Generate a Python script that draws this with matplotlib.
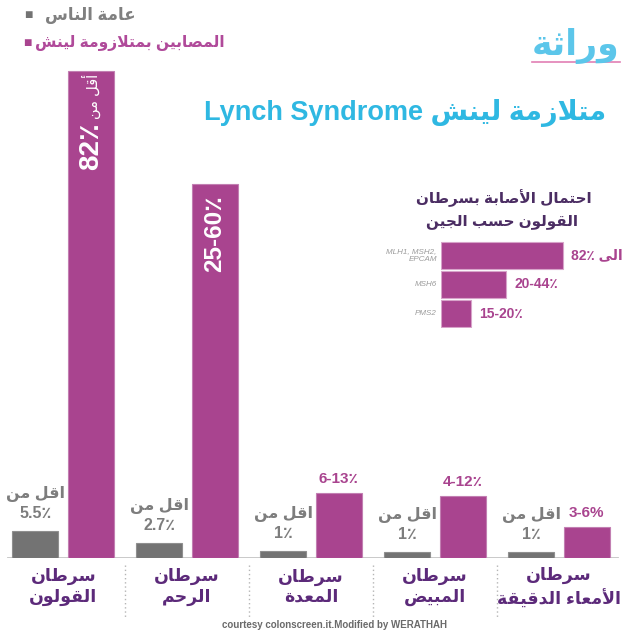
import numpy as np
import matplotlib.pyplot as plt

W, H = 625, 631

# main chart data (bar heights read in percent units)
categories = ['سرطان\nالقولون', 'سرطان\nالرحم', 'سرطان\nالمعدة', 'سرطان\nالمبيض', 'سرطان\nالأمعاء الدقيقة']
general = [4.6, 2.5, 1.2, 1.0, 1.0]
lynch = [82, 63, 11, 10.4, 5.2]
general_labels = ['5.5٪', '2.7٪', '1٪', '1٪', '1٪']
lynch_labels = ['82٪', '25-60٪', '6-13٪', '4-12٪', '3-6%']
legend_labels = ['عامة الناس', 'المصابين بمتلازومة لينش']

# inset: colon cancer risk by gene
genes = ['MLH1, MSH2,\nEPCAM', 'MSH6', 'PMS2']
gene_risk = [82, 44, 20]
gene_labels = ['الى 82٪', '20-44٪', '15-20٪']

PURPLE = '#a9448f'
GRAY = '#737373'
DARK = '#5c2a7a'
CYAN = '#2fb8e2'

# --- minimal arabic shaping (matplotlib has no bidi / joining) ---
_DUAL = {'ئ': 0xFE89, 'ب': 0xFE8F, 'ت': 0xFE95, 'ث': 0xFE99, 'ج': 0xFE9D, 'ح': 0xFEA1,
         'خ': 0xFEA5, 'س': 0xFEB1, 'ش': 0xFEB5, 'ص': 0xFEB9, 'ض': 0xFEBD, 'ط': 0xFEC1,
         'ظ': 0xFEC5, 'ع': 0xFEC9, 'غ': 0xFECD, 'ف': 0xFED1, 'ق': 0xFED5, 'ك': 0xFED9,
         'ل': 0xFEDD, 'م': 0xFEE1, 'ن': 0xFEE5, 'ه': 0xFEE9, 'ي': 0xFEF1}
_RIGHT = {'آ': 0xFE81, 'أ': 0xFE83, 'ؤ': 0xFE85, 'إ': 0xFE87, 'ا': 0xFE8D, 'ة': 0xFE93,
          'د': 0xFEA9, 'ذ': 0xFEAB, 'ر': 0xFEAD, 'ز': 0xFEAF, 'و': 0xFEED, 'ى': 0xFEEF}
FORMS = {c: tuple(chr(b + k) for k in range(4)) for c, b in _DUAL.items()}
FORMS.update({c: (chr(b), chr(b + 1)) for c, b in _RIGHT.items()})
FORMS['ء'] = (chr(0xFE80),)
LAM_ALEF = {'آ': (chr(0xFEF5), chr(0xFEF6)), 'أ': (chr(0xFEF7), chr(0xFEF8)),
            'إ': (chr(0xFEF9), chr(0xFEFA)), 'ا': (chr(0xFEFB), chr(0xFEFC))}


def shape(word):
    toks = []
    i = 0
    while i < len(word):
        c = word[i]
        if c == 'ل' and i + 1 < len(word) and word[i + 1] in LAM_ALEF:
            toks.append(LAM_ALEF[word[i + 1]])
            i += 2
        else:
            toks.append(FORMS.get(c, c))
            i += 1
    out = []
    for k, f in enumerate(toks):
        if isinstance(f, str):
            out.append(f)
            continue
        prev = toks[k - 1] if k > 0 else None
        nxt = toks[k + 1] if k + 1 < len(toks) else None
        jp = isinstance(prev, tuple) and len(prev) == 4
        jn = len(f) == 4 and isinstance(nxt, tuple)
        if len(f) == 1:
            g = f[0]
        elif jp and jn:
            g = f[3]
        elif jp:
            g = f[1]
        elif jn:
            g = f[2]
        else:
            g = f[0]
        out.append(g)
    return ''.join(reversed(out))


def rtl(text):
    lines = []
    for line in text.split('\n'):
        runs = []
        for t in line.split(' '):
            ar = any(c in FORMS for c in t)
            if runs and not ar and not runs[-1][0]:
                runs[-1][1].append(t)
            else:
                runs.append((ar, [t]))
        parts = [shape(ts[0]) if ar else ' '.join(ts) for ar, ts in reversed(runs)]
        lines.append(' '.join(parts))
    return '\n'.join(lines)


def fx(px):
    return px / W


def fy(py):
    return 1 - py / H


plt.rcParams['font.family'] = ['Liberation Sans', 'DejaVu Sans']
fig = plt.figure(figsize=(W / 100, H / 100), dpi=100)

# main bars
ax = fig.add_axes([0, fy(558), 1, 499 / H])
x = np.arange(len(categories))
off, bw = 0.224, 0.371
ax.bar(x - off, general, bw, color=GRAY, edgecolor='#8f8f8f', linewidth=0.8, zorder=3)
ax.bar(x + off, lynch, bw, color=PURPLE, edgecolor='#c27fb2', linewidth=0.8, zorder=3)
ax.set_xlim(-0.510, 4.534)
ax.set_ylim(0, 84)
ax.axis('off')
ax.axhline(0, 0.013, 0.987, color='#c4c4c4', lw=2, zorder=2)
ax.vlines(x[:-1] + 0.5, -1.2, -10, colors='#b5b5b5', linestyles=(0, (1, 2)), lw=1, clip_on=False)

for i in x:
    ax.annotate(rtl(categories[i]), (i, 0), xytext=(0, -21), textcoords='offset points',
                ha='center', va='center', fontsize=12.5, fontweight='bold', color=DARK,
                linespacing=1.3, annotation_clip=False)
    ax.annotate(rtl('اقل من') + '\n' + general_labels[i], (i - off, general[i]), xytext=(0, 7),
                textcoords='offset points', ha='center', va='bottom', fontsize=11.5,
                fontweight='bold', color='#7d7d7d', linespacing=1.35)
    if i >= 2:
        ax.annotate(lynch_labels[i], (i + off, lynch[i]), xytext=(0, 5), textcoords='offset points',
                    ha='center', va='bottom', fontsize=11, fontweight='bold', color=PURPLE)

# labels written inside the two tall bars
ax.annotate(rtl('أقل من'), (x[0] + off, lynch[0]), xytext=(0, -2), textcoords='offset points',
            rotation=90, ha='center', va='top', fontsize=10.5, color='white')
ax.annotate(lynch_labels[0], (x[0] + off, lynch[0]), xytext=(0, -37), textcoords='offset points',
            rotation=90, ha='center', va='top', fontsize=20, fontweight='bold', color='white')
ax.annotate(lynch_labels[1], (x[1] + off, lynch[1]), xytext=(0, -8), textcoords='offset points',
            rotation=90, ha='center', va='top', fontsize=17.5, fontweight='bold', color='white')

# inset chart
iax = fig.add_axes([fx(441), fy(328), 148.8 / W, 87 / H])
yy = np.arange(len(genes))
iax.barh(yy, gene_risk, height=0.93, color=PURPLE, edgecolor='#d7a3c9', linewidth=0.8)
iax.set_xlim(0, 100)
iax.set_ylim(2.5, -0.5)
iax.axis('off')
for i in yy:
    iax.annotate(genes[i], (0, i), xytext=(-3, 0), textcoords='offset points', ha='right',
                 va='center', fontsize=5.8, style='italic', color='#9b9b9b', annotation_clip=False)
    iax.annotate(rtl(gene_labels[i]), (gene_risk[i], i), xytext=(6, 0), textcoords='offset points',
                 ha='left', va='center', fontsize=10, fontweight='bold', color=PURPLE,
                 annotation_clip=False)
fig.text(fx(504), fy(198), rtl('احتمال الأصابة بسرطان'), ha='center', va='center',
         fontsize=11, fontweight='bold', color='#4b2d63')
fig.text(fx(502), fy(222), rtl('القولون حسب الجين'), ha='center', va='center',
         fontsize=11, fontweight='bold', color='#4b2d63')

# title
fig.text(fx(405), fy(113), 'Lynch Syndrome ' + rtl('متلازمة لينش'), ha='center', va='center',
         fontsize=19.5, fontweight='bold', color=CYAN)

# legend
fig.text(fx(28), fy(15), '■', ha='center', va='center', fontsize=10, color=GRAY)
fig.text(fx(45), fy(15), rtl(legend_labels[0]), ha='left', va='center', fontsize=12,
         fontweight='bold', color='#808080')
fig.text(fx(27), fy(43), '■', ha='center', va='center', fontsize=10, color=PURPLE)
fig.text(fx(35), fy(43), rtl(legend_labels[1]), ha='left', va='center', fontsize=11.2,
         fontweight='bold', color='#b04a9a')

# logo
fig.text(fx(576), fy(46), rtl('وراثة'), ha='center', va='center', fontsize=25,
         fontweight='bold', color='#5cc6ea')
fig.add_artist(plt.Line2D([fx(532), fx(620)], [fy(62), fy(62)], color='#e27fb4', lw=1.2))

# footer
fig.text(fx(334), fy(625), 'courtesy colonscreen.it.Modified by WERATHAH', ha='center',
         va='center', fontsize=7, fontweight='bold', color='#6a6a6a')

fig.savefig('out.png', dpi=100, facecolor='white')
